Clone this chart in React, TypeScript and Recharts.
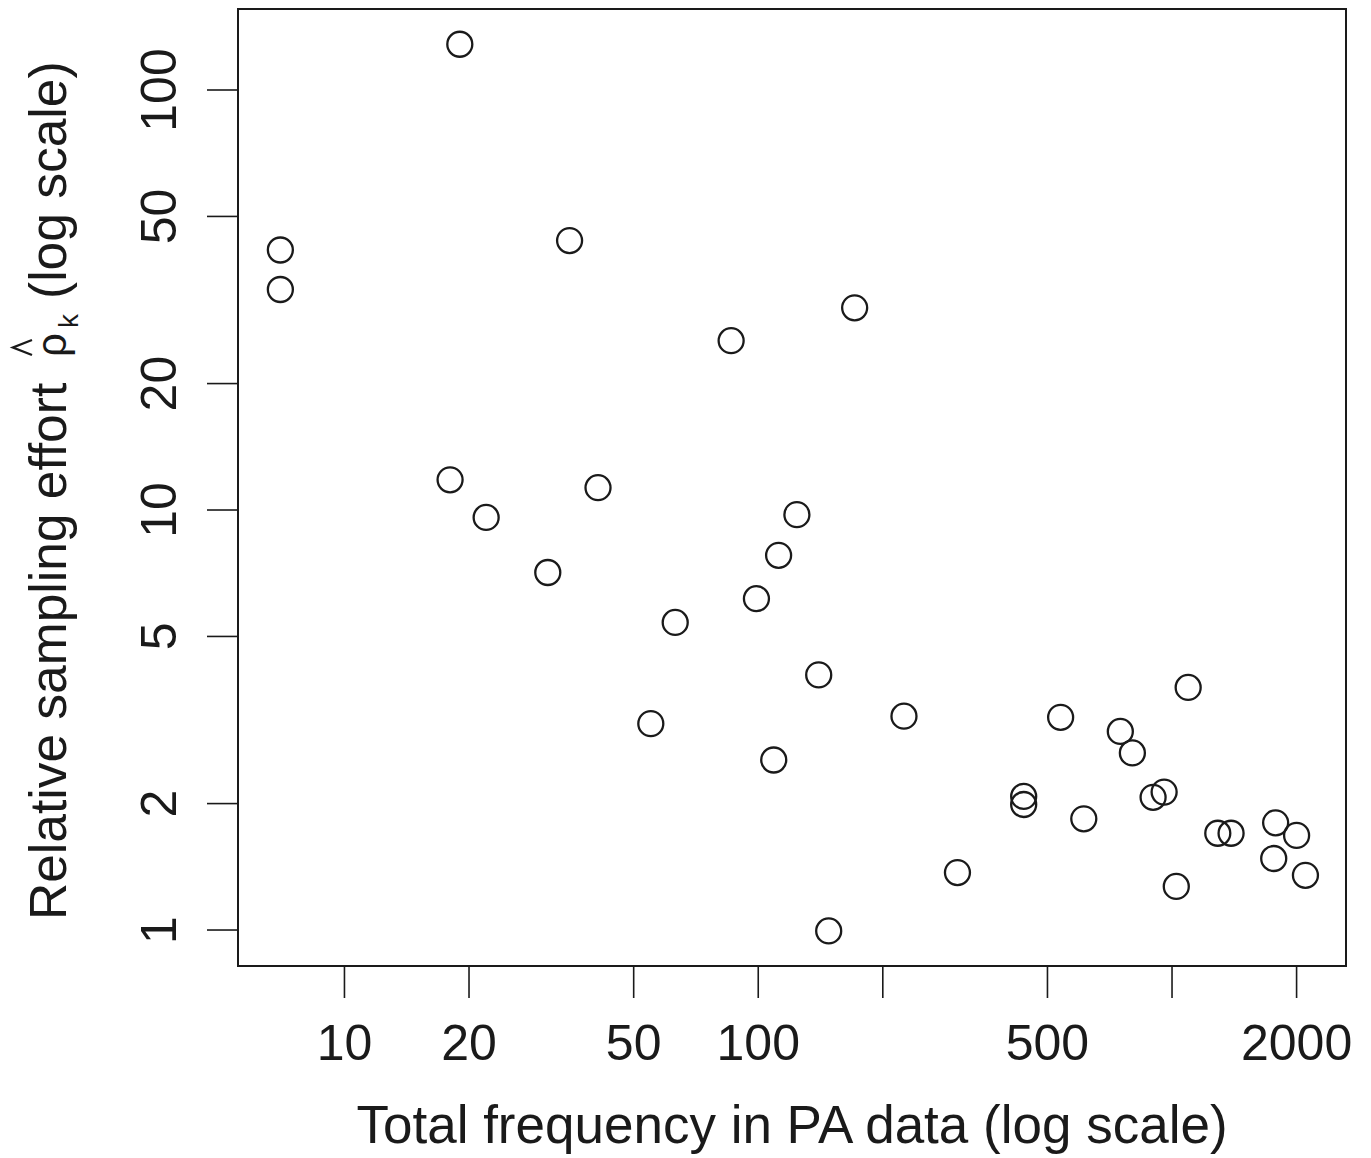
import React from "react";
import { ScatterChart, Scatter, XAxis, YAxis, ReferenceArea } from "recharts";

// Total frequency in PA data (x) and relative sampling effort (y)
const freq = [7, 7, 19, 18, 22, 35, 41, 31, 55, 63, 86, 99, 112, 124, 109, 140, 171, 148, 225, 303, 438, 438, 538, 612, 750, 802, 900, 957, 1094, 1024, 1290, 1389, 1780, 1761, 2000, 2101];
const effort = [41.6, 33.5, 128.5, 11.8, 9.6, 43.8, 11.3, 7.1, 3.1, 5.4, 25.3, 6.15, 7.8, 9.75, 2.54, 4.05, 30.3, 0.995, 3.23, 1.37, 2.08, 1.99, 3.21, 1.84, 2.97, 2.64, 2.07, 2.13, 3.78, 1.27, 1.7, 1.7, 1.8, 1.48, 1.68, 1.35];

const xTicks = [10, 20, 50, 100, 200, 500, 1000, 2000];
const xTickLabels = ["10", "20", "50", "100", "", "500", "", "2000"];
const yTicks = [1, 2, 5, 10, 20, 50, 100];
const yTickLabels = ["1", "2", "5", "10", "20", "50", "100"];

const X_DOMAIN: [number, number] = [5.53, 2633];
const Y_DOMAIN: [number, number] = [0.821, 155.9];

const data = freq.map((f, i) => ({ freq: f, effort: effort[i] }));

const FONT = "'Liberation Sans', Arial, Helvetica, sans-serif";
const INK = "#1a1a1a";

const XTick = (props: any) => {
  const { x, y, payload } = props;
  const idx = xTicks.indexOf(payload.value);
  const label = idx >= 0 ? xTickLabels[idx] : "";
  if (!label) return <g />;
  return (
    <text x={x} y={y + 60} textAnchor="middle" fontFamily={FONT} fontSize={50} fill={INK}>
      {label}
    </text>
  );
};

const YTick = (props: any) => {
  const { x, y, payload } = props;
  const idx = yTicks.indexOf(payload.value);
  const label = idx >= 0 ? yTickLabels[idx] : "";
  const bx = x - 29;
  return (
    <text
      x={bx}
      y={y}
      transform={`rotate(-90, ${bx}, ${y})`}
      textAnchor="middle"
      fontFamily={FONT}
      fontSize={50}
      fill={INK}
    >
      {label}
    </text>
  );
};

const XLabel = () => (
  <text x={792} y={1143} textAnchor="middle" fontFamily={FONT} fontSize={53} fill={INK}>
    Total frequency in PA data (log scale)
  </text>
);

const YLabel = () => (
  <g fontFamily={FONT} fill={INK}>
    <g transform="rotate(-90)">
      <text x={-920} y={66} textAnchor="start" fontSize={51.5}>
        Relative sampling effort
      </text>
      <text x={-345} y={66} textAnchor="middle" fontSize={42}>
        ρ
      </text>
      <text x={-321} y={78} textAnchor="middle" fontSize={28}>
        k
      </text>
      <text x={-299} y={66} textAnchor="start" fontSize={51.5}>
        (log scale)
      </text>
    </g>
    <path d="M32,340 L13,347.5 L32,355" fill="none" stroke={INK} strokeWidth={2.4} />
  </g>
);

const Ring = (props: any) => {
  const { cx, cy } = props;
  return <circle cx={cx} cy={cy} r={12.5} fill="none" stroke={INK} strokeWidth={2.3} />;
};

export default function App() {
  return (
    <div style={{ position: "absolute", left: 0, top: 0, background: "#fff" }}>
      <ScatterChart width={1371} height={1158} margin={{ top: 9, right: 25, bottom: 0, left: 0 }}>
        <XAxis
          dataKey="freq"
          type="number"
          scale="log"
          domain={X_DOMAIN}
          allowDataOverflow
          ticks={xTicks}
          interval={0}
          height={192}
          axisLine={false}
          tickLine={{ stroke: INK, strokeWidth: 1.6 }}
          tickSize={32}
          tick={<XTick />}
          label={<XLabel />}
        />
        <YAxis
          dataKey="effort"
          type="number"
          scale="log"
          domain={Y_DOMAIN}
          allowDataOverflow
          ticks={yTicks}
          interval={0}
          width={238}
          axisLine={false}
          tickLine={{ stroke: INK, strokeWidth: 1.6 }}
          tickSize={31}
          tick={<YTick />}
          label={<YLabel />}
        />
        <ReferenceArea
          x1={X_DOMAIN[0]}
          x2={X_DOMAIN[1]}
          y1={Y_DOMAIN[0]}
          y2={Y_DOMAIN[1]}
          fill="none"
          stroke={INK}
          strokeWidth={2}
          ifOverflow="visible"
        />
        <Scatter data={data} dataKey="effort" shape={<Ring />} isAnimationActive={false} />
      </ScatterChart>
    </div>
  );
}
